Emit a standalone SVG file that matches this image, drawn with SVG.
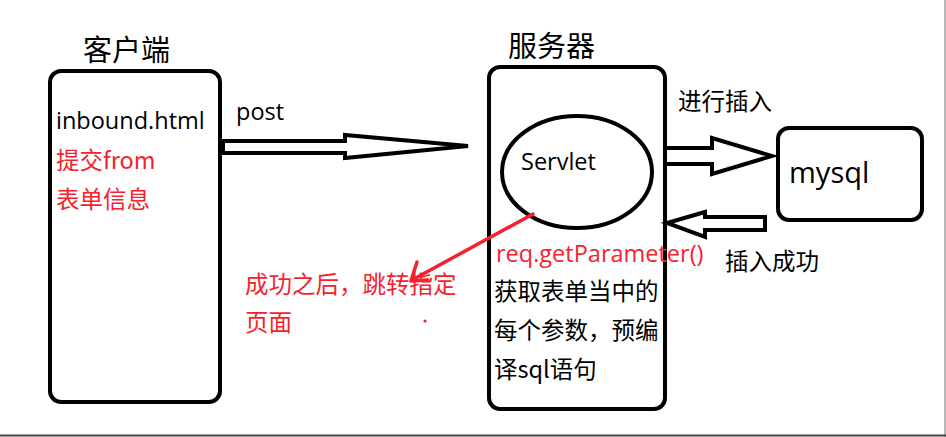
<svg xmlns="http://www.w3.org/2000/svg" width="946" height="437" viewBox="0 0 946 437">
<style>
.box{fill:none;stroke:#000;stroke-width:4}
.arr{fill:none;stroke:#000;stroke-width:4;stroke-linejoin:miter}
.t{font-family:"Open Sans","Noto Sans CJK SC",sans-serif;fill:#000;font-size:23.5px}
.cj{font-family:"Noto Sans CJK SC","Open Sans",sans-serif;fill:#000;font-size:23.5px}
.big{font-size:29px}
.red{fill:#f5222d}
</style>
<rect width="946" height="437" fill="#fff"/>
<line x1="945" y1="0" x2="945" y2="437" stroke="#a0a0a0" stroke-width="1.5"/>
<line x1="0" y1="435.5" x2="946" y2="435.5" stroke="#444" stroke-width="2"/>
<g id="client">
<rect class="box" x="50" y="71" width="170" height="331" rx="11"/>
<text class="cj big" x="83" y="61">客户端</text>
<text class="t" x="56" y="129">inbound.html</text>
<text class="cj red" x="56" y="169">提交from</text>
<text class="cj red" x="56" y="208">表单信息</text>
</g>
<g id="server">
<rect class="box" x="489" y="67" width="176" height="342" rx="11"/>
<text class="cj big" x="508" y="57">服务器</text>
<text class="t red" x="496" y="262">req.getParameter()</text>
<text class="cj" x="494" y="300">获取表单当中的</text>
<text class="cj" x="494" y="339">每个参数，预编</text>
<text class="cj" x="494" y="378">译sql语句</text>
</g>
<g id="servlet">
<ellipse cx="577" cy="172" rx="75" ry="56" fill="#fff" stroke="#000" stroke-width="4"/>
<text class="t" x="521" y="170">Servlet</text>
</g>
<g id="mysql">
<rect class="box" x="778" y="128" width="144" height="92" rx="11"/>
<text class="t big" x="789" y="183">mysql</text>
</g>
<g id="labels">
<text class="t" x="236" y="120">post</text>
<text class="cj" x="678" y="110">进行插入</text>
<text class="cj" x="725" y="270">插入成功</text>
<text class="cj red" x="245" y="293">成功之后，跳转指定</text>
<text class="cj red" x="245" y="331">页面</text>
</g>
<g id="connectors">
<polygon class="arr" points="223,141 345,141 345,135 468,146 345,158 345,153 223,153"/>
<polygon class="arr" points="665,148 712,148 712,138 772,156 712,174 712,164 665,164"/>
<polygon class="arr" points="765,217 705,217 705,212 667,223 705,237 705,230 765,230"/>
<line x1="533" y1="214" x2="412" y2="280" stroke="#f5222d" stroke-width="3.5" stroke-linecap="round"/>
<polyline points="417,262 411,281 428,280" fill="none" stroke="#f5222d" stroke-width="3.5" stroke-linecap="round" stroke-linejoin="round"/>
<circle cx="425" cy="321" r="1.6" fill="#f5222d"/>
</g>
</svg>
